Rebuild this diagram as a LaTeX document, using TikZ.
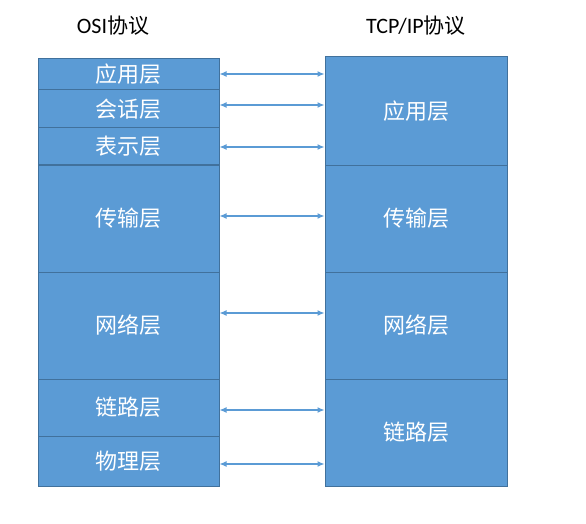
\documentclass[tikz,border=0pt]{standalone}
\usepackage{fontspec}
\setmainfont{Carlito}
\newfontfamily\cjk{Noto Sans CJK SC}
\usetikzlibrary{arrows.meta}
\definecolor{layerfill}{HTML}{5B9BD5}
\definecolor{layerline}{HTML}{41719C}

\begin{document}
\begin{tikzpicture}[x=1pt,y=-1pt,
  layer/.style={draw=layerline,fill=layerfill,line width=1pt,text=white,
    font=\cjk\fontsize{22}{22}\selectfont,inner sep=0pt},
  osi/.style={layer,minimum width=181pt},
  tcp/.style={layer,minimum width=182pt},
  title/.style={font=\fontsize{22}{22}\selectfont},
  link/.style={draw=layerfill,line width=1.2pt,
    {Latex[length=7pt,width=6pt]}-{Latex[length=7pt,width=6pt]}}]
\useasboundingbox (0,0) rectangle (586,524);
\node[title] (osiT) at (113,26) {OSI{\cjk\fontsize{21}{21}\selectfont 协议}};
\node[title] (tcpT) at (416,26) {TCP/IP{\cjk\fontsize{21}{21}\selectfont 协议}};
\node[osi,minimum height=31pt] (osiA) at (128.5,74.5) {应用层};
\node[osi,minimum height=38pt] (osiB) at (128.5,109) {会话层};
\node[osi,minimum height=36pt] (osiC) at (128.5,146) {表示层};
\node[osi,minimum height=107pt] (osiD) at (128.5,218.5) {传输层};
\node[osi,minimum height=107pt] (osiE) at (128.5,325.5) {网络层};
\node[osi,minimum height=57pt] (osiF) at (128.5,407.5) {链路层};
\node[osi,minimum height=50pt] (osiG) at (128.5,461) {物理层};
\node[tcp,minimum height=108pt] (tcpA) at (416,111) {应用层};
\node[tcp,minimum height=107pt] (tcpB) at (416,218.5) {传输层};
\node[tcp,minimum height=107pt] (tcpC) at (416,325.5) {网络层};
\node[tcp,minimum height=107pt] (tcpD) at (416,432.5) {链路层};
\draw[link] ([yshift=0.5pt]osiA.east) -- ([yshift=0.5pt]osiA.east -| tcpA.west);
\draw[link] ([yshift=4pt]osiB.east) -- ([yshift=4pt]osiB.east -| tcpA.west);
\draw[link] ([yshift=-1pt]osiC.east) -- ([yshift=-1pt]osiC.east -| tcpA.west);
\draw[link] ([yshift=2.5pt]osiD.east) -- ([yshift=2.5pt]osiD.east -| tcpB.west);
\draw[link] ([yshift=12.5pt]osiE.east) -- ([yshift=12.5pt]osiE.east -| tcpC.west);
\draw[link] ([yshift=-2.5pt]osiF.east) -- ([yshift=-2.5pt]osiF.east -| tcpD.west);
\draw[link] ([yshift=-3pt]osiG.east) -- ([yshift=-3pt]osiG.east -| tcpD.west);
\end{tikzpicture}
\end{document}
